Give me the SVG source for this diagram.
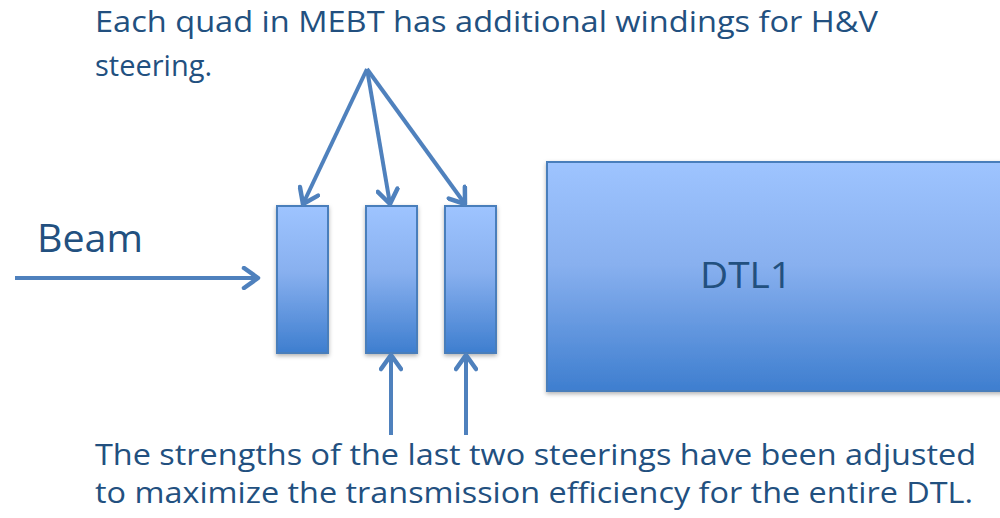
<svg xmlns="http://www.w3.org/2000/svg" width="1000" height="518" viewBox="0 0 1000 518">
  <style>
    .label { font-family: "Open Sans", "Liberation Sans", sans-serif; fill: #22507f; }
    .box { fill: url(#blueGrad); stroke: #4a7ebb; stroke-width: 2; filter: url(#shadow); }
    .link { stroke: #4f81bd; stroke-width: 4; fill: none; marker-end: url(#chevron); }
  </style>
  <defs>
    <linearGradient id="blueGrad" x1="0" y1="0" x2="0" y2="1">
      <stop offset="0" stop-color="#9ec4ff"/>
      <stop offset="0.45" stop-color="#88b0ef"/>
      <stop offset="1" stop-color="#3e7ecf"/>
    </linearGradient>
    <filter id="shadow" x="-10%" y="-10%" width="130%" height="130%">
      <feDropShadow dx="0" dy="2" stdDeviation="2" flood-color="#000" flood-opacity="0.3"/>
    </filter>
    <marker id="chevron" markerUnits="userSpaceOnUse" viewBox="0 0 24 24" refX="20" refY="12" markerWidth="24" markerHeight="24" orient="auto">
      <path d="M6,2 L20,12 L6,22" fill="none" stroke="#4f81bd" stroke-width="4.5" stroke-linecap="round" stroke-linejoin="round"/>
    </marker>
  </defs>

  <!-- captions -->
  <text class="label" x="95" y="32" font-size="29" textLength="783" lengthAdjust="spacingAndGlyphs">Each quad in MEBT has additional windings for H&amp;V</text>
  <text class="label" x="95" y="76" font-size="29">steering.</text>
  <text class="label" x="95" y="465" font-size="29" textLength="881" lengthAdjust="spacingAndGlyphs">The strengths of the last two steerings have been adjusted</text>
  <text class="label" x="95" y="503" font-size="29" textLength="878" lengthAdjust="spacingAndGlyphs">to maximize the transmission efficiency for the entire DTL.</text>

  <!-- MEBT quadrupoles -->
  <g id="quad1"><rect class="box" x="277" y="206" width="51" height="147"/></g>
  <g id="quad2"><rect class="box" x="366" y="206" width="51" height="147"/></g>
  <g id="quad3"><rect class="box" x="445" y="206" width="51" height="147"/></g>

  <!-- drift tube linac tank -->
  <g id="dtl1">
    <rect class="box" x="547" y="162" width="470" height="229"/>
    <text class="label" x="700" y="288" font-size="37" textLength="92" lengthAdjust="spacingAndGlyphs">DTL1</text>
  </g>

  <g id="beam">
    <text class="label" x="37" y="252" font-size="38" textLength="106" lengthAdjust="spacingAndGlyphs">Beam</text>
  </g>

  <!-- connectors -->
  <g id="connectors">
    <line class="link" x1="15" y1="278" x2="258" y2="278"/>
    <line class="link" x1="367" y1="69" x2="303" y2="204"/>
    <line class="link" x1="367" y1="69" x2="390" y2="204"/>
    <line class="link" x1="367" y1="69" x2="465" y2="204"/>
    <line class="link" x1="391" y1="435" x2="391" y2="355"/>
    <line class="link" x1="466" y1="435" x2="466" y2="355"/>
  </g>
</svg>
